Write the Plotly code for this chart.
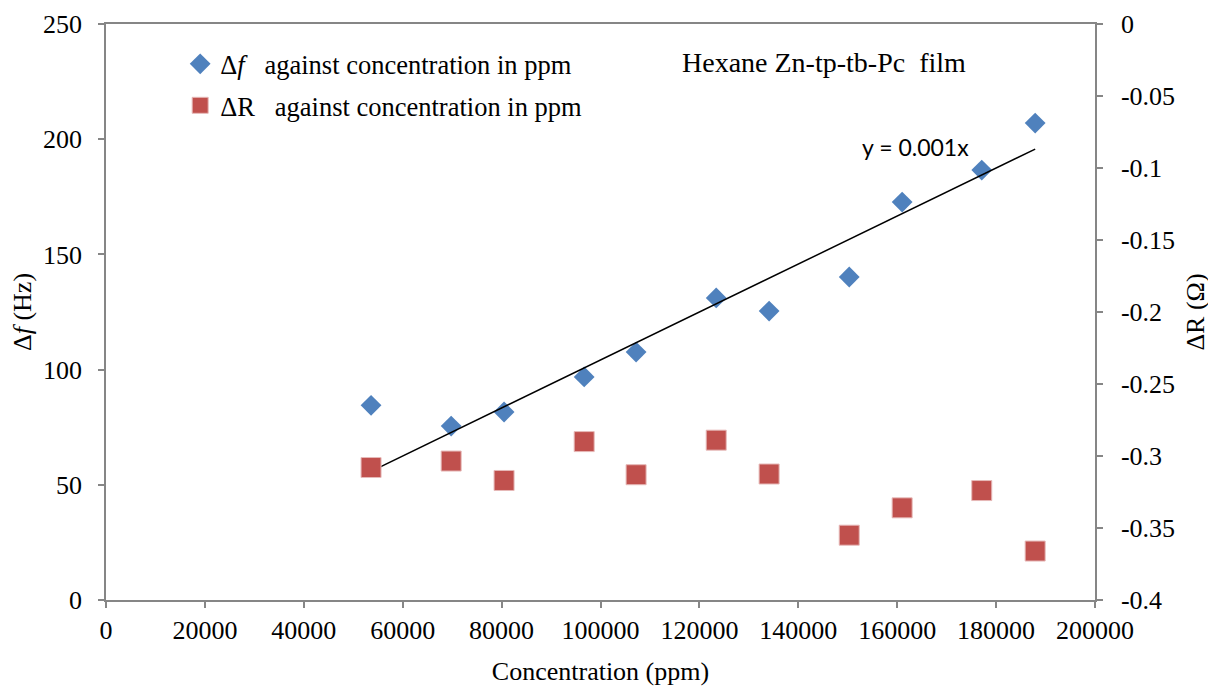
import numpy as np
import plotly.graph_objects as go

# Data
conc_ppm = [53600, 69800, 80500, 96700, 107200, 123400, 134100, 150300, 161000, 177100, 187900]
delta_f = [84.5, 75.5, 81.6, 96.8, 107.6, 131.1, 125.4, 140.2, 172.7, 186.6, 207.0]
delta_R = [-0.308, -0.3035, -0.317, -0.290, -0.313, -0.289, -0.3125, -0.355, -0.336, -0.324, -0.366]

x_ticks = [0, 20000, 40000, 60000, 80000, 100000, 120000, 140000, 160000, 180000, 200000]
y_ticks = [0, 50, 100, 150, 200, 250]
y2_ticks = [0, -0.05, -0.1, -0.15, -0.2, -0.25, -0.3, -0.35, -0.4]
y2_labels = ["0", "-0.05", "-0.1", "-0.15", "-0.2", "-0.25", "-0.3", "-0.35", "-0.4"]

# Linear trendline through origin (least squares)
xa = np.array(conc_ppm, dtype=float)
ya = np.array(delta_f, dtype=float)
slope = float((xa * ya).sum() / (xa * xa).sum())
trend_x = [xa.min(), xa.max()]
trend_y = [slope * v for v in trend_x]

SERIF = "Liberation Serif, Times New Roman, serif"
FS = 26
AXIS_COL = "#868686"

fig = go.Figure()
fig.add_trace(go.Scatter(
    x=conc_ppm, y=delta_f, mode="markers",
    marker=dict(symbol="diamond", size=16, color="#4F81BD"),
    name="Δ<i>f</i>   against concentration in ppm",
    legendgroup="a",
))
fig.add_trace(go.Scatter(
    x=conc_ppm, y=delta_R, mode="markers", yaxis="y2",
    marker=dict(symbol="square", size=20, color="#C0504D",
                line=dict(color="#E6B9B8", width=1)),
    name="ΔR   against concentration in ppm",
    legendgroup="b",
))
fig.add_trace(go.Scatter(
    x=trend_x, y=trend_y, mode="lines",
    line=dict(color="black", width=1.5),
    showlegend=False, hoverinfo="skip",
))

fig.update_layout(
    width=1216, height=689,
    margin=dict(l=98, r=129, t=16, b=97),
    paper_bgcolor="white", plot_bgcolor="white",
    font=dict(family=SERIF, size=FS, color="black"),
    showlegend=True,
    legend=dict(x=0.075, y=0.972, xanchor="left", yanchor="top",
                bgcolor="rgba(0,0,0,0)", font=dict(family=SERIF, size=26.5),
                itemwidth=30, tracegroupgap=4),
    xaxis=dict(
        range=[0, 200000], tickvals=x_ticks, ticktext=[str(v) for v in x_ticks],
        showgrid=False, zeroline=False, showline=True, linecolor=AXIS_COL, linewidth=1.5,
        ticks="outside", ticklen=6, tickcolor=AXIS_COL, tickwidth=1.5, mirror=True,
        automargin=False,
        title=dict(text="Concentration (ppm)", font=dict(family=SERIF, size=FS), standoff=18),
        tickfont=dict(family=SERIF, size=FS),
    ),
    yaxis=dict(
        range=[0, 250], tickvals=y_ticks,
        showgrid=False, zeroline=False, showline=True, linecolor=AXIS_COL, linewidth=1.5,
        ticks="outside", ticklen=6, tickcolor=AXIS_COL, tickwidth=1.5,
        automargin=False, ticklabelstandoff=11,
        title=dict(text="Δ<i>f</i> (Hz)", font=dict(family=SERIF, size=FS), standoff=12),
        tickfont=dict(family=SERIF, size=FS),
    ),
    yaxis2=dict(
        range=[-0.4, 0], tickvals=y2_ticks, ticktext=y2_labels,
        overlaying="y", side="right",
        showgrid=False, zeroline=False, showline=True, linecolor=AXIS_COL, linewidth=1.5,
        ticks="outside", ticklen=6, tickcolor=AXIS_COL, tickwidth=1.5,
        automargin=False, ticklabelstandoff=13,
        title=dict(text="ΔR (Ω)", font=dict(family=SERIF, size=FS), standoff=12),
        tickfont=dict(family=SERIF, size=FS),
    ),
    annotations=[
        dict(text="Hexane Zn-tp-tb-Pc  film", xref="paper", yref="paper",
             x=0.58, y=0.934, xanchor="left", yanchor="middle", showarrow=False,
             font=dict(family=SERIF, size=28)),
        dict(text="y = 0.001x", xref="paper", yref="paper",
             x=0.762, y=0.786, xanchor="left", yanchor="middle", showarrow=False,
             font=dict(family="Lato", size=23)),
    ],
)

fig.write_html("out.html")
